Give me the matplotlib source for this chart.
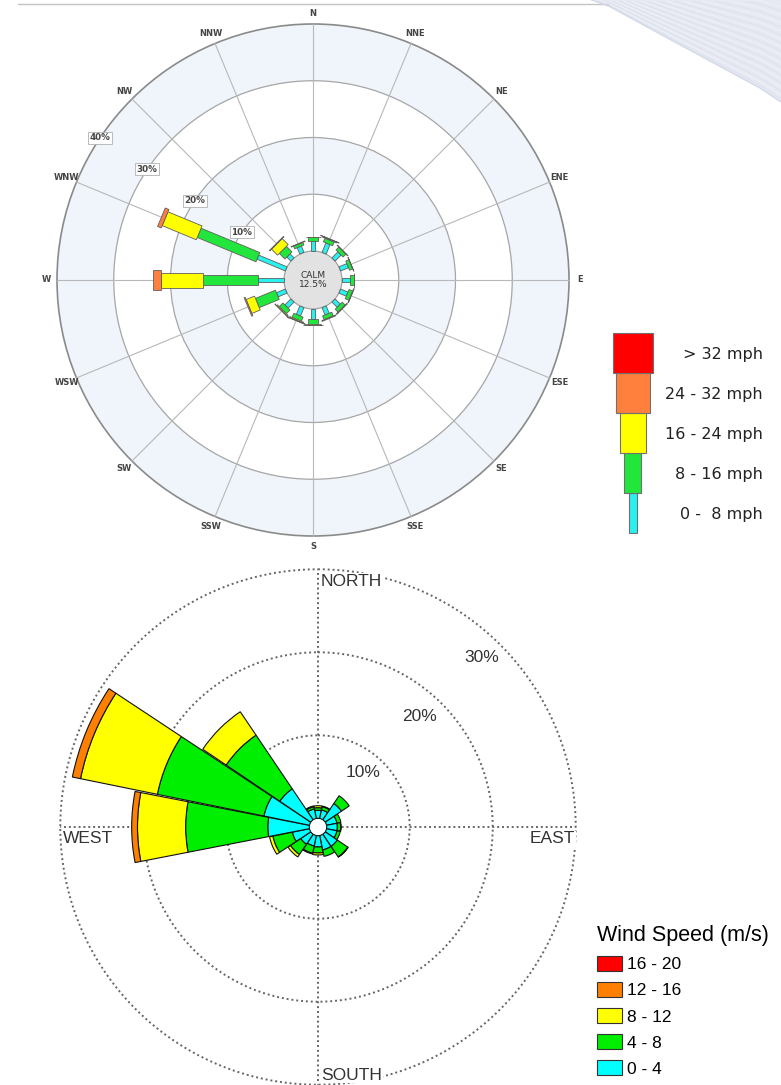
import numpy as np
import matplotlib
matplotlib.use('Agg')
import matplotlib.pyplot as plt
from matplotlib.patches import Polygon, Circle, Rectangle, Patch

# ---------------- data ----------------
directions = ['N', 'NNE', 'NE', 'ENE', 'E', 'ESE', 'SE', 'SSE',
              'S', 'SSW', 'SW', 'WSW', 'W', 'WNW', 'NW', 'NNW']
bearings = np.arange(16) * 22.5

# top rose: percent frequency per mph bin
top_labels = ['0 -  8 mph', '8 - 16 mph', '16 - 24 mph', '24 - 32 mph', '> 32 mph']
top_0_8   = [1.8, 1.8, 1.5, 1.5, 1.4, 1.4, 1.3, 1.4, 1.7, 1.6, 1.5, 1.7, 4.5, 5.4, 1.0, 1.2]
top_8_16  = [0.6, 0.7, 0.7, 0.6, 0.7, 0.7, 0.7, 0.7, 0.9, 0.8, 0.9, 3.8, 9.8, 11.2, 1.4, 0.5]
top_16_24 = [0.15, 0.15, 0.1, 0.05, 0.1, 0.1, 0.15, 0.15, 0.25, 0.2, 0.2, 1.6, 7.4, 6.5, 1.5, 0.1]
top_24_32 = [0, 0.05, 0, 0, 0, 0, 0, 0, 0.05, 0.05, 0.05, 0.2, 1.3, 0.7, 0.1, 0]
top_32_up = [0] * 16
calm_pct = 12.5
top_rings = [10, 20, 30, 40]

# bottom rose: percent frequency per m/s bin
bot_labels = ['0 - 4', '4 - 8', '8 - 12', '12 - 16', '16 - 20']
bot_0_4   = [0.96, 1.04, 2.36, 1.28, 1.28, 1.28, 1.76, 1.76, 1.36, 1.28, 1.45, 2.1, 5.0, 5.6, 4.5, 1.16]
bot_4_8   = [0.32, 0.40, 1.13, 0.48, 0.40, 0.40, 1.53, 0.80, 0.72, 0.88, 1.5, 2.4, 9.9, 13.1, 7.8, 0.28]
bot_8_12  = [0.24, 0.08, 0, 0, 0.05, 0, 0.05, 0, 0.24, 0.1, 0.35, 0.4, 5.8, 9.45, 3.4, 0.1]
bot_12_16 = [0, 0, 0, 0, 0, 0, 0, 0, 0, 0, 0, 0, 0.7, 1.0, 0, 0]
bot_16_20 = [0] * 16
bot_rings = [10, 20, 30]
bot_compass = ['NORTH', 'EAST', 'SOUTH', 'WEST']

# ---------------- figure ----------------
W, H = 781, 1085
fig = plt.figure(figsize=(W / 100, H / 100), dpi=100)

# decorative background (header line + swoosh)
bg = fig.add_axes([0, 0, 1, 1], zorder=0)
bg.set_xlim(0, W); bg.set_ylim(H, 0); bg.axis('off')
bg.plot([18, 608], [4, 4], color='#c4c4c4', lw=1.0)
bx = np.array([592, 610, 660, 710, 760, 781])
by = np.array([0, 6.7, 34, 61, 88, 102])
xs = np.linspace(592, 781, 80)
ys = np.interp(xs, bx, by)
bg.fill(np.r_[xs, 781, 592], np.r_[ys, 0, 0], color='#e6e9f2', lw=0)
for k, off in enumerate(np.linspace(3, 95, 24)):
    col = '#d6dcea' if k % 2 == 0 else '#f4f6fa'
    bg.plot(xs, np.clip(ys - off * (0.3 + 0.7 * (xs - 592) / 189), 0, None),
            color=col, lw=0.5, alpha=0.8)
bg.plot(xs, ys, color='#d3d9e7', lw=1.0)

# ---------------- top wind rose ----------------
PX = 5.675          # pixels per percent
C0 = 29 / PX        # calm circle radius (percent units)
cx, cy, half = 313, 280, 280
lim = half / PX
ax1 = fig.add_axes([(cx - half) / W, (H - cy - half) / H, 2 * half / W, 2 * half / H], zorder=1)
ax1.set_xlim(-lim, lim); ax1.set_ylim(-lim, lim); ax1.axis('off')
ax1.patch.set_alpha(0)

for i, r in enumerate(sorted(top_rings, reverse=True)):
    fc = '#eff5fb' if i % 2 == 0 else 'white'
    ec = '#8a8a8a' if i == 0 else '#a6a6a6'
    ax1.add_patch(Circle((0, 0), C0 + r, facecolor=fc, edgecolor=ec,
                         lw=1.2 if i == 0 else 0.9, zorder=1))
rad_b = np.deg2rad(bearings)
for t in rad_b:
    ax1.plot([C0 * np.sin(t), (C0 + max(top_rings)) * np.sin(t)],
             [C0 * np.cos(t), (C0 + max(top_rings)) * np.cos(t)],
             color='#b8b8b8', lw=0.8, zorder=2)
ax1.add_patch(Circle((0, 0), C0, facecolor='#e2e2e2', edgecolor='#9a9a9a', lw=0.8, zorder=3))
ax1.text(0, 0, 'CALM\n%.1f%%' % calm_pct, ha='center', va='center', fontsize=6.5,
         color='#333333', linespacing=0.95, zorder=6)

top_series = [top_0_8, top_8_16, top_16_24, top_24_32, top_32_up]
top_colors = ['#2af0f0', '#22e63c', '#ffff00', '#ff7f3c', '#ff0000']
top_widths = np.array([4.5, 10, 15, 20, 24]) / PX
cum = np.zeros(16)
for vals, col, wd in zip(top_series, top_colors, top_widths):
    vals = np.asarray(vals, float)
    for j, t in enumerate(rad_b):
        if vals[j] <= 0:
            continue
        u = np.array([np.sin(t), np.cos(t)])
        v = np.array([np.cos(t), -np.sin(t)])
        r0, r1 = C0 + cum[j], C0 + cum[j] + vals[j]
        hw = wd / 2
        pts = [r0 * u + hw * v, r1 * u + hw * v, r1 * u - hw * v, r0 * u - hw * v]
        ax1.add_patch(Polygon(pts, closed=True, facecolor=col, edgecolor='#5e5e5e',
                              lw=0.6, zorder=4))
    cum += vals

lab_r = C0 + 41.9
for name, t in zip(directions, rad_b):
    ax1.text(lab_r * np.sin(t), lab_r * np.cos(t), name, ha='center', va='center',
             fontsize=6, fontweight='bold', color='#444444', zorder=6)
lt = np.deg2rad(303.75)
for r in top_rings:
    ax1.text((C0 + r) * np.sin(lt), (C0 + r) * np.cos(lt), '%d%%' % r, ha='center', va='center',
             fontsize=6.3, fontweight='bold', color='#444444', zorder=7,
             bbox=dict(boxstyle='square,pad=0.18', fc='white', ec='#b0b0b0', lw=0.6))

# top legend
axl = fig.add_axes([600 / W, (H - 545) / H, 181 / W, 225 / H], zorder=1)
axl.set_xlim(600, 781); axl.set_ylim(545, 320); axl.axis('off')
leg_w = [8, 17, 26, 34, 40]
for k in range(5):
    top = 333 + 40 * (4 - k)
    axl.add_patch(Rectangle((632.5 - leg_w[k] / 2, top), leg_w[k], 40,
                            facecolor=top_colors[k], edgecolor='#707070', lw=0.8))
    axl.text(763, top + 21, top_labels[k], ha='right', va='center', fontsize=11.5,
             color='#222222')

# ---------------- bottom wind rose ----------------
K = 8.3
R0 = 1.05
bcx, bcy = 318, 827
rmax = max(bot_rings)
rad = (rmax + R0) * K
ax2 = fig.add_axes([(bcx - rad) / W, (H - bcy - rad) / H, 2 * rad / W, 2 * rad / H],
                   projection='polar', zorder=1)
ax2.set_theta_zero_location('N'); ax2.set_theta_direction(-1)
ax2.set_rlim(0, rmax); ax2.set_rorigin(-R0)
ax2.spines['polar'].set_visible(False)
ax2.set_facecolor('none')
ax2.set_rgrids(bot_rings[:-1], labels=[''] * (len(bot_rings) - 1))
ax2.set_thetagrids([0, 90, 180, 270], labels=[''] * 4)
dot = (0, (1, 1.5))
ax2.grid(True, color='#666666', linestyle=dot, linewidth=1.4)
th = np.linspace(0, 2 * np.pi, 500)
ax2.plot(th, np.full_like(th, rmax), color='#666666', ls=dot, lw=1.4, clip_on=False, zorder=1)

bot_series = [bot_0_4, bot_4_8, bot_8_12, bot_12_16, bot_16_20]
bot_colors = ['#00ffff', '#00ee00', '#ffff00', '#ff8000', '#ff0000']
cum = np.zeros(16)
wid = np.deg2rad(22)
for vals, col in zip(bot_series, bot_colors):
    vals = np.asarray(vals, float)
    m = vals > 0
    if m.any():
        ax2.bar(rad_b[m], vals[m], width=wid, bottom=cum[m], color=col,
                edgecolor='#111111', linewidth=0.8, zorder=3)
    cum += vals

ff = 'Liberation Sans'
for lab, th_d, r in zip(['10%', '20%', '30%'], [39.8, 42.6, 44.0], [7.42, 17.1, 27.4]):
    ax2.text(np.deg2rad(th_d), r, lab, ha='center', va='center', fontsize=12.5, family=ff,
             color='#333333', zorder=5,
             bbox=dict(boxstyle='square,pad=0.1', fc='white', ec='none'))

def axfrac(px, py):
    return ((px - (bcx - rad)) / (2 * rad), (bcy + rad - py) / (2 * rad))

pos = {'NORTH': (321, 581.5, 'left'), 'SOUTH': (321, 1075, 'left'),
       'WEST': (62.5, 839, 'left'), 'EAST': (575, 839, 'right')}
for name in bot_compass:
    px, py, ha = pos[name]
    ax2.text(*axfrac(px, py), name, transform=ax2.transAxes, ha=ha, va='center',
             fontsize=12.5, family=ff, color='#333333', zorder=5,
             bbox=dict(boxstyle='square,pad=0.05', fc='white', ec='none'))

handles = [Patch(facecolor=c, edgecolor='#333333', lw=0.8, label=l)
           for c, l in zip(bot_colors[::-1], bot_labels[::-1])]
fig.legend(handles=handles, title='Wind Speed (m/s)', loc='upper left',
           bbox_to_anchor=(597 / W, 1 - 925 / H), bbox_transform=fig.transFigure,
           frameon=False, prop=dict(family=ff, size=12.5),
           title_fontproperties=dict(family=ff, size=15.5),
           handlelength=1.45, handleheight=0.95, handletextpad=0.3, labelspacing=0.56,
           borderpad=0, borderaxespad=0, alignment='left')

fig.savefig('out.png', dpi=100, facecolor='white')
